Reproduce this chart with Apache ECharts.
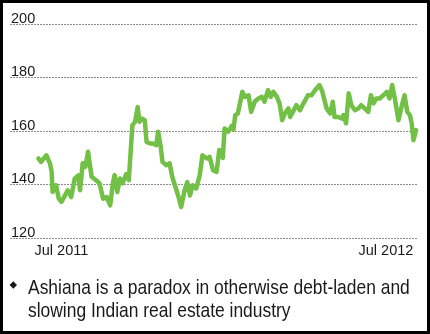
<!DOCTYPE html>
<html>
<head>
<meta charset="utf-8">
<script src="https://cdn.jsdelivr.net/npm/echarts@6/dist/echarts.min.js"></script>
<style>
  html, body { margin: 0; padding: 0; background: #fff; }
  #chart { width: 430px; height: 334px; }
</style>
</head>
<body>
<div id="chart"></div>
<script>
// ---- Data ----
const dates = [
  '2011-06-05','2011-06-08','2011-06-14','2011-06-18','2011-06-20','2011-06-21','2011-06-25','2011-06-28',
  '2011-07-01','2011-07-05','2011-07-08','2011-07-12','2011-07-16','2011-07-20','2011-07-22','2011-07-25',
  '2011-07-28','2011-07-31','2011-08-04','2011-08-09','2011-08-13','2011-08-17','2011-08-21','2011-08-25',
  '2011-08-28','2011-08-30','2011-09-02','2011-09-05','2011-09-08','2011-09-12','2011-09-15','2011-09-17',
  '2011-09-19','2011-09-22','2011-09-25','2011-09-27','2011-09-30','2011-10-03','2011-10-05','2011-10-09',
  '2011-10-12','2011-10-16','2011-10-18','2011-10-21','2011-10-23','2011-10-27','2011-10-31','2011-11-03',
  '2011-11-06','2011-11-10','2011-11-13','2011-11-17','2011-11-20','2011-11-23','2011-11-26','2011-11-30',
  '2011-12-04','2011-12-07','2011-12-12','2011-12-15','2011-12-19','2011-12-23','2011-12-26','2011-12-30',
  '2012-01-01','2012-01-05','2012-01-09','2012-01-11','2012-01-13','2012-01-16','2012-01-21','2012-01-24',
  '2012-01-28','2012-01-31','2012-02-04','2012-02-08','2012-02-12','2012-02-15','2012-02-19','2012-02-22',
  '2012-02-25','2012-02-29','2012-03-03','2012-03-06','2012-03-09','2012-03-13','2012-03-15','2012-03-18',
  '2012-03-22','2012-03-26','2012-03-30','2012-04-04','2012-04-08','2012-04-12','2012-04-17','2012-04-20',
  '2012-04-25','2012-04-29','2012-05-02','2012-05-04','2012-05-08','2012-05-12','2012-05-14','2012-05-17',
  '2012-05-20','2012-05-23','2012-05-27','2012-05-31','2012-06-03','2012-06-07','2012-06-11','2012-06-14',
  '2012-06-17','2012-06-20','2012-06-24','2012-06-28','2012-07-02','2012-07-05','2012-07-08','2012-07-11',
  '2012-07-15','2012-07-19','2012-07-22','2012-07-25','2012-07-28','2012-07-30','2012-08-01','2012-08-04'
];
const prices = [
  149.8,148.5,151.0,148.0,144.8,137.3,139.8,134.8,
  133.6,136.0,137.9,135.4,142.3,143.5,137.9,148.0,
  146.7,152.3,143.0,141.7,140.5,134.8,135.4,132.3,
  140.5,143.6,137.3,142.3,140.5,144.0,141.7,141.0,
  162.2,163.5,169.0,163.5,164.7,164.1,156.0,155.4,
  155.4,154.8,159.8,154.1,148.5,147.3,148.0,142.9,
  139.8,135.5,131.7,138.0,141.0,136.0,139.8,138.6,
  143.6,151.0,149.8,150.4,145.4,144.8,153.0,150.0,
  161.0,159.8,162.0,160.5,166.0,166.6,174.7,172.8,
  173.4,167.2,171.0,172.2,172.8,171.0,175.3,172.8,
  174.7,172.8,170.4,164.1,166.6,168.5,165.3,167.2,
  169.7,167.8,170.4,173.4,173.4,175.3,177.2,175.0,
  168.5,166.6,171.0,165.3,165.3,164.7,166.0,162.9,
  174.1,169.7,167.8,168.5,169.7,168.5,167.2,173.4,
  170.4,172.2,172.2,173.4,174.7,172.2,177.2,172.2,
  164.1,169.7,173.4,167.2,166.0,162.9,156.6,160.4
];
const xTickDates  = ['2011-07-01', '2012-07-01'];
const xTickLabels = ['Jul 2011', 'Jul 2012'];
const xRange = ['2011-05-04', '2012-08-05'];
const yTicks = [120, 140, 160, 180, 200];
const captionLines = ['Ashiana is a paradox in otherwise debt-laden and', 'slowing Indian real estate industry'];

const FONT = "'Liberation Sans', Arial, sans-serif";
const toTime = d => Date.parse(d + 'T00:00:00Z');
const tickTimes = xTickDates.map(toTime);

const chart = echarts.init(document.getElementById('chart'), null, { renderer: 'canvas' });
chart.setOption({
  animation: false,
  backgroundColor: '#fff',
  grid: { left: 10, right: 13, top: 24, bottom: 95.7, containLabel: false },
  xAxis: {
    type: 'value',
    min: toTime(xRange[0]),
    max: toTime(xRange[1]),
    axisLine: { show: false },
    axisTick: { show: false },
    splitLine: { show: false },
    axisLabel: {
      customValues: tickTimes,
      formatter: function (v) {
        const i = tickTimes.indexOf(v);
        return i >= 0 ? xTickLabels[i] : '';
      },
      margin: 5,
      color: '#1a1a1a',
      fontSize: 14.5,
      fontFamily: FONT
    }
  },
  yAxis: {
    type: 'value',
    min: yTicks[0],
    max: yTicks[yTicks.length - 1],
    interval: 20,
    axisLine: { show: false },
    axisTick: { show: false },
    axisLabel: {
      inside: true,
      margin: 1,
      verticalAlign: 'bottom',
      lineHeight: 11,
      color: '#1a1a1a',
      fontSize: 14.5,
      fontFamily: FONT
    },
    splitLine: { show: true, lineStyle: { color: '#8c8c8c', width: 1, type: [2, 1] } }
  },
  series: [{
    type: 'line',
    data: dates.map((d, i) => [toTime(d), prices[i]]),
    showSymbol: false,
    symbol: 'none',
    lineStyle: { color: '#72c045', width: 4.5, join: 'round', cap: 'round' },
    z: 3
  }],
  graphic: [
    { type: 'rect', shape: { x: 1.5, y: 1.5, width: 427, height: 331 },
      style: { fill: 'none', stroke: '#000', lineWidth: 3 }, silent: true },
    { type: 'polygon', shape: { points: [[13.3, 281.3], [17, 285], [13.3, 288.7], [9.6, 285]] },
      style: { fill: '#1a1a1a' }, silent: true },
    { type: 'text', x: 28, y: 277, scaleX: 0.83, scaleY: 1,
      style: { text: captionLines.join('\n'), fill: '#1a1a1a', font: '21px ' + FONT, lineHeight: 23,
               verticalAlign: 'top', align: 'left' } }
  ]
});
</script>
</body>
</html>
